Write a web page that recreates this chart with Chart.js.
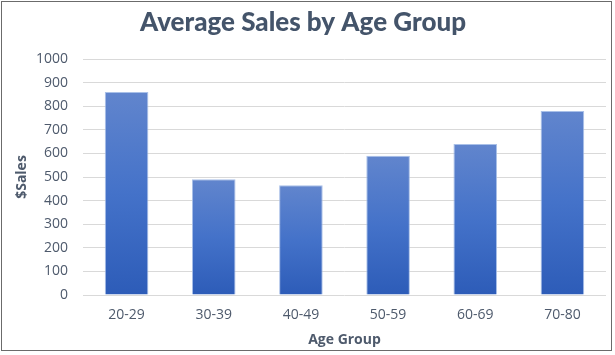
<!DOCTYPE html>
<html>
<head>
<meta charset="utf-8">
<script src="https://cdn.jsdelivr.net/npm/chart.js@4"></script>
<style>
  html, body { margin: 0; padding: 0; background: #ffffff; }
  canvas { display: block; }
</style>
</head>
<body>
<canvas id="c" width="615" height="355"></canvas>
<script>
const categories = ["20-29", "30-39", "40-49", "50-59", "60-69", "70-80"];
const salesValues = [860, 490, 465, 590, 640, 780];
const yTickMin = 0;
const yTickMax = 1000;
const yTickStep = 100;
const chartTitle = "Average Sales by Age Group";
const xAxisTitle = "Age Group";
const yAxisTitle = "$Sales";

const frame = {
  id: 'frame',
  afterDraw(chart) {
    const ctx = chart.ctx;
    ctx.save();
    ctx.strokeStyle = '#6b6b6b';
    ctx.lineWidth = 1;
    ctx.strokeRect(1.5, 1.5, 610, 349);
    ctx.restore();
  }
};

function barGradient(c) {
  const chart = c.chart;
  const y = chart.scales && chart.scales.y;
  if (!chart.chartArea || !y || c.raw === undefined) return '#4472C4';
  const top = y.getPixelForValue(c.raw);
  const bottom = y.getPixelForValue(0);
  const g = chart.ctx.createLinearGradient(0, top, 0, bottom);
  g.addColorStop(0, '#6185CD');
  g.addColorStop(0.5, '#4472C9');
  g.addColorStop(1, '#2D5CB8');
  return g;
}

new Chart(document.getElementById('c'), {
  type: 'bar',
  data: {
    labels: categories,
    datasets: [{
      data: salesValues,
      backgroundColor: barGradient,
      borderColor: 'rgba(160,185,230,0.9)',
      borderWidth: 1,
      categoryPercentage: 1.0,
      barPercentage: 0.5
    }]
  },
  options: {
    responsive: false,
    animation: false,
    devicePixelRatio: 1,
    layout: { padding: { left: 0, right: 9, top: 0, bottom: 0 } },
    plugins: {
      legend: { display: false },
      tooltip: { enabled: false },
      title: {
        display: true,
        text: chartTitle,
        color: '#44546A',
        font: { family: 'Lato', size: 26, weight: 900, lineHeight: 1.2 },
        padding: { top: 7, bottom: 20.8 }
      }
    },
    scales: {
      x: {
        grid: { display: false, drawTicks: false },
        border: { display: false },
        ticks: {
          color: '#4E5A6C',
          font: { family: 'Open Sans', size: 14 },
          padding: 12,
          maxRotation: 0
        },
        title: {
          display: true,
          text: xAxisTitle,
          color: '#4E5A6C',
          font: { family: 'Open Sans', size: 14, weight: 'bold', lineHeight: 1.2 },
          padding: { top: 0, bottom: 6.6 }
        },
        afterFit(s) { s.height = 60; }
      },
      y: {
        min: yTickMin,
        max: yTickMax,
        grid: { color: '#D9D9D9', lineWidth: 1, drawTicks: false },
        border: { display: false },
        ticks: {
          stepSize: yTickStep,
          color: '#4E5A6C',
          font: { family: 'Open Sans', size: 14 },
          padding: 15,
          callback: (v) => String(v)
        },
        title: {
          display: true,
          text: yAxisTitle,
          color: '#4E5A6C',
          font: { family: 'Open Sans', size: 14, weight: 'bold', lineHeight: 1.2 },
          padding: { top: 13.3, bottom: 0 }
        },
        afterFit(s) { s.width = 83; }
      }
    }
  },
  plugins: [frame]
});
</script>
</body>
</html>
